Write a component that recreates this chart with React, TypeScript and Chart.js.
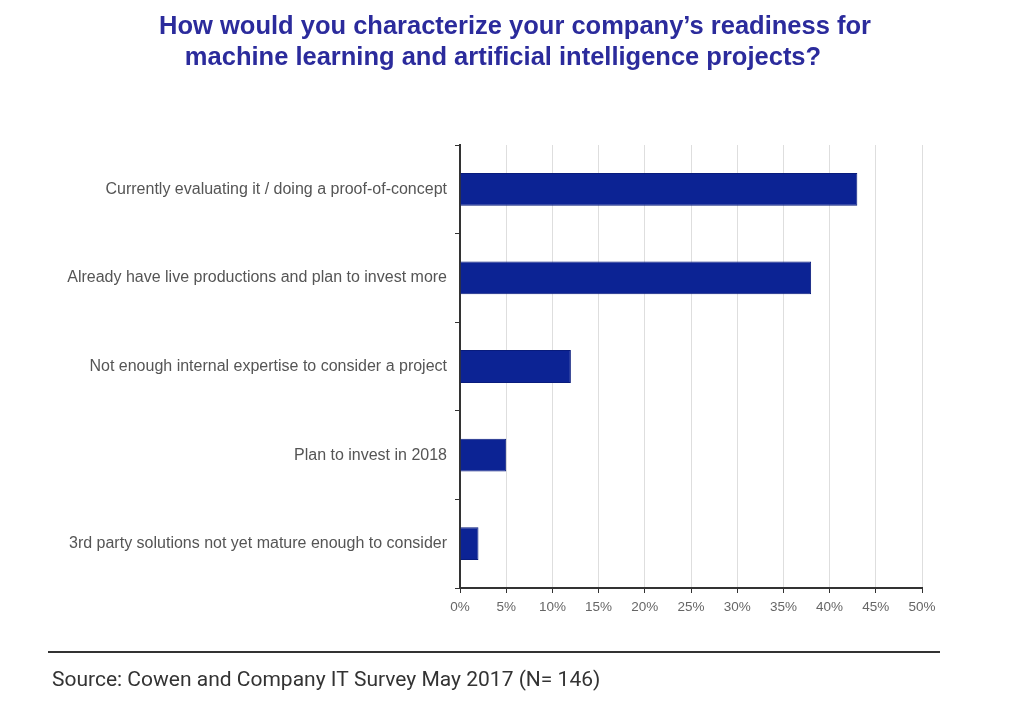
import React, { useEffect, useRef } from "react";
import { Chart, registerables } from "chart.js";

Chart.register(...registerables);

const categories = [
  "Currently evaluating it / doing a proof-of-concept",
  "Already have live productions and plan to invest more",
  "Not enough internal expertise to consider a project",
  "Plan to invest in 2018",
  "3rd party solutions not yet mature enough to consider",
];
const values = [43, 38, 12, 5, 2];
const titleLines = [
  "How would you characterize your company\u2019s readiness for",
  "machine learning and artificial intelligence projects?",
];
const sourceText = "Source: Cowen and Company IT Survey May 2017 (N= 146)";

const decorPlugin = {
  id: "decor",
  afterDraw(chart: any) {
    const ctx = chart.ctx;
    ctx.save();
    ctx.fillStyle = "#2b2b9c";
    ctx.font = "bold 25.5px 'Liberation Sans', Arial, sans-serif";
    ctx.textAlign = "center";
    ctx.textBaseline = "middle";
    ctx.fillText(titleLines[0], 515, 27);
    ctx.fillText(titleLines[1], 503, 58);
    ctx.strokeStyle = "#333";
    ctx.lineWidth = 2;
    ctx.beginPath();
    ctx.moveTo(48, 652);
    ctx.lineTo(940, 652);
    ctx.stroke();
    ctx.fillStyle = "#333";
    ctx.font = "21px Roboto, 'Liberation Sans', sans-serif";
    ctx.textAlign = "left";
    ctx.fillText(sourceText, 52, 681);
    ctx.restore();
  },
};

export default function App() {
  const ref = useRef<HTMLCanvasElement>(null);
  useEffect(() => {
    document.body.style.margin = "0";
    const chart = new Chart(ref.current!, {
      type: "bar",
      data: {
        labels: categories,
        datasets: [
          {
            data: values,
            backgroundColor: "#0c2394",
            borderColor: "#081b7c",
            borderWidth: 1,
            barPercentage: 0.37,
            categoryPercentage: 1,
          },
        ],
      },
      options: {
        indexAxis: "y",
        animation: false,
        responsive: false,
        maintainAspectRatio: false,
        layout: { padding: { top: 145, right: 102, bottom: 95, left: 0 } },
        plugins: {
          legend: { display: false },
          tooltip: { enabled: false },
          title: { display: false },
        },
        scales: {
          x: {
            min: 0,
            max: 50,
            ticks: {
              stepSize: 5,
              callback: (v: any) => v + "%",
              color: "#666",
              font: { size: 13.5, family: "'Liberation Sans', Arial, sans-serif" },
              padding: 6,
              maxRotation: 0,
            },
            grid: {
              color: "#dedede",
              lineWidth: 1,
              tickColor: "#333",
              tickLength: 5,
            },
            border: { color: "#333", width: 2 },
            afterFit: (s: any) => {
              s.height = 30;
            },
          },
          y: {
            ticks: {
              color: "#555",
              font: { size: 16, family: "'Liberation Sans', Arial, sans-serif" },
              padding: 8,
            },
            grid: {
              drawOnChartArea: false,
              tickColor: "#333",
              tickLength: 5,
            },
            border: { color: "#333", width: 2 },
            afterFit: (s: any) => {
              s.width = 460;
            },
          },
        },
      },
      plugins: [decorPlugin],
    });
    return () => chart.destroy();
  }, []);
  return (
    <div style={{ position: "absolute", left: 0, top: 0, width: 1024, height: 713, background: "#fff" }}>
      <canvas ref={ref} width={1024} height={713} style={{ width: 1024, height: 713 }} />
    </div>
  );
}
